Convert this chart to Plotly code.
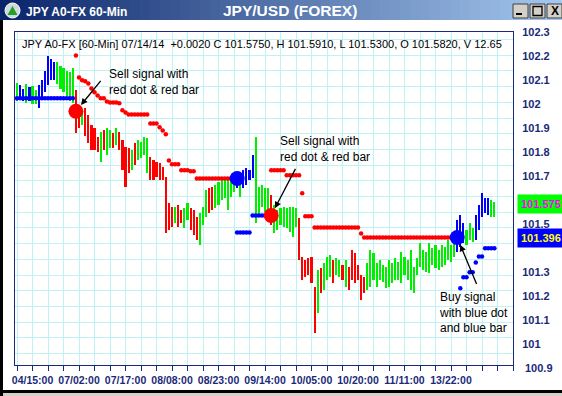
import plotly.graph_objects as go

# ---------------- data ----------------
bar_index = list(range(155))

signal = (
    ["G", "B", "B", "G", "B", "G", "G", "B", "B", "B"]
    + ["B", "B", "B", "G", "G", "G", "G", "G", "G", "R"]
    + ["R", "G", "R", "R", "R", "R", "R", "G", "R", "G"]
    + ["G", "R", "G", "R", "R", "R", "R", "G", "R", "G"]
    + ["G", "G", "G", "R", "R", "R", "R", "R", "R", "R"]
    + ["R", "G", "R", "R", "G", "G", "R", "R", "R", "G"]
    + ["G", "G", "R", "R", "G", "G", "G", "G", "G", "G"]
    + ["G", "B", "G", "B", "B", "B", "B", "G", "G", "G"]
    + ["G", "G", "R", "G", "G", "G", "G", "G", "G", "G"]
    + ["G", "R", "R", "R", "R", "R", "R", "G", "R", "G"]
    + ["G", "G", "R", "G", "G", "R", "G", "R", "R", "R"]
    + ["R", "R", "R", "G", "G", "G", "G", "G", "G", "G"]
    + ["G", "G", "G", "G", "G", "G", "G", "G", "G", "G"]
    + ["G", "G", "G", "G", "G", "G", "G", "G", "G", "G"]
    + ["G", "G", "B", "B", "B", "G", "G", "G", "B", "B"]
    + ["B", "B", "B", "G", "G"]
)

high = [
    102.086, 102.078, 102.065, 102.082, 102.070, 102.074, 102.057, 102.078, 102.099, 102.140,
    102.199, 102.190, 102.174, 102.174, 102.157, 102.149, 102.140, 102.132, 102.149, 102.057,
    101.995, 101.965, 101.982, 101.953, 101.911, 101.899, 101.861, 101.882, 101.890, 101.899,
    101.890, 101.878, 101.899, 101.882, 101.849, 101.820, 101.815, 101.807, 101.836, 101.849,
    101.840, 101.861, 101.857, 101.778, 101.765, 101.757, 101.753, 101.736, 101.695, 101.586,
    101.570, 101.570, 101.578, 101.557, 101.565, 101.586, 101.565, 101.557, 101.528, 101.545,
    101.570, 101.640, 101.649, 101.653, 101.661, 101.674, 101.690, 101.695, 101.690, 101.682,
    101.690, 101.711, 101.690, 101.724, 101.732, 101.724, 101.786, 101.861, 101.653, 101.661,
    101.649, 101.649, 101.620, 101.578, 101.557, 101.565, 101.570, 101.565, 101.570, 101.570,
    101.565, 101.524, 101.361, 101.349, 101.357, 101.361, 101.236, 101.307, 101.315, 101.336,
    101.361, 101.370, 101.349, 101.357, 101.349, 101.328, 101.349, 101.319, 101.390, 101.378,
    101.328, 101.286, 101.278, 101.336, 101.390, 101.378, 101.336, 101.349, 101.328, 101.319,
    101.349, 101.336, 101.357, 101.340, 101.382, 101.361, 101.349, 101.390, 101.319, 101.357,
    101.420, 101.390, 101.382, 101.420, 101.399, 101.411, 101.390, 101.411, 101.403, 101.432,
    101.411, 101.444, 101.515, 101.536, 101.503, 101.474, 101.503, 101.482, 101.536, 101.578,
    101.628, 101.607, 101.607, 101.599, 101.591,
]

low = [
    102.015, 102.024, 102.015, 102.003, 102.015, 101.999, 101.999, 101.982, 102.024, 102.049,
    102.078, 102.099, 102.099, 102.082, 102.065, 102.049, 102.032, 102.015, 102.003, 101.878,
    101.899, 101.911, 101.869, 101.836, 101.807, 101.807, 101.799, 101.757, 101.807, 101.786,
    101.815, 101.815, 101.828, 101.807, 101.724, 101.653, 101.711, 101.724, 101.745, 101.765,
    101.774, 101.786, 101.711, 101.682, 101.682, 101.695, 101.682, 101.682, 101.461, 101.474,
    101.486, 101.503, 101.486, 101.503, 101.482, 101.515, 101.474, 101.453, 101.432, 101.411,
    101.495, 101.528, 101.545, 101.557, 101.565, 101.578, 101.599, 101.607, 101.557, 101.611,
    101.632, 101.649, 101.611, 101.649, 101.661, 101.682, 101.690, 101.503, 101.528, 101.570,
    101.549, 101.507, 101.495, 101.461, 101.474, 101.495, 101.486, 101.482, 101.465, 101.444,
    101.486, 101.349, 101.265, 101.278, 101.286, 101.253, 101.045, 101.128, 101.211, 101.224,
    101.265, 101.278, 101.253, 101.286, 101.278, 101.265, 101.236, 101.224, 101.265, 101.253,
    101.265, 101.182, 101.211, 101.224, 101.236, 101.265, 101.236, 101.265, 101.257, 101.232,
    101.236, 101.253, 101.265, 101.265, 101.253, 101.286, 101.265, 101.224, 101.211, 101.286,
    101.319, 101.307, 101.299, 101.295, 101.328, 101.315, 101.307, 101.319, 101.328, 101.349,
    101.340, 101.361, 101.382, 101.403, 101.420, 101.411, 101.432, 101.424, 101.432, 101.474,
    101.528, 101.545, 101.536, 101.528, 101.530,
]

# parabolic-SAR style dots
red_dot_x = list(range(19, 71)) + list(range(82, 142))
red_dot_y = [
    102.203, 102.111, 102.099, 102.095, 102.086, 102.065, 102.049, 102.036, 102.024, 102.024,
    102.011, 102.007, 102.007, 102.007, 102.003, 101.974, 101.965,
    101.957, 101.957, 101.957, 101.957, 101.957, 101.957, 101.957,
    101.919, 101.919, 101.919, 101.903, 101.890, 101.874, 101.765,
    101.749, 101.749, 101.749, 101.724, 101.724, 101.724, 101.720, 101.720,
    101.690, 101.690, 101.690, 101.690, 101.690, 101.690, 101.690, 101.690, 101.690, 101.690,
    101.690, 101.690, 101.690,
    101.724, 101.724, 101.724, 101.724, 101.724, 101.703, 101.703, 101.703, 101.703, 101.703,
    101.628, 101.532, 101.532, 101.532,
    101.486, 101.486, 101.486, 101.486, 101.486, 101.486, 101.486, 101.486, 101.486, 101.486,
    101.486, 101.486, 101.486, 101.486, 101.486, 101.461,
    101.444, 101.444, 101.444, 101.444, 101.444, 101.444, 101.444, 101.444, 101.444, 101.444,
    101.444, 101.444, 101.444, 101.444, 101.444, 101.444, 101.444, 101.444, 101.444, 101.444,
    101.444, 101.444, 101.444, 101.444, 101.444, 101.444, 101.444, 101.444, 101.444, 101.444,
]
blue_dot_x = list(range(0, 19)) + list(range(71, 81)) + list(range(143, 155))
blue_dot_y = [
    102.024, 102.024, 102.024, 102.024, 102.024, 102.024, 102.024, 102.024, 102.024, 102.024,
    102.024, 102.024, 102.024, 102.024, 102.024, 102.024, 102.024, 102.024, 102.024,
    101.465, 101.465, 101.465, 101.465, 101.465, 101.536, 101.536, 101.536, 101.536, 101.536,
    101.232, 101.278, 101.278, 101.299, 101.299, 101.340, 101.365, 101.365,
    101.399, 101.399, 101.399, 101.399,
]

# buy / sell signal markers
signal_x = [19, 71, 82, 142]
signal_y = [101.970, 101.690, 101.536, 101.444]
signal_kind = ["sell", "buy", "sell", "buy"]

x_label_pos = [5, 20, 35, 50, 65, 80, 95, 110, 125, 140]
x_label_text = ["04/15:00", "07/02:00", "07/17:00", "08/08:00", "08/23:00",
                "09/14:00", "10/05:00", "10/20:00", "11/11:00", "13/22:00"]
# 101.4 and 101.6 sit hidden behind the value boxes in the original
y_tick_vals = [101.0, 101.1, 101.2, 101.3, 101.5, 101.7,
               101.8, 101.9, 102.0, 102.1, 102.2, 102.3]
y_tick_text = ["101", "101.1", "101.2", "101.3", "101.5", "101.7",
               "101.8", "101.9", "102", "102.1", "102.2", "102.3"]
y_bottom_label = "100.9"

last_close = "101.575"
last_sar = "101.396"
header = ("JPY A0-FX [60-Min] 07/14/14  +0.0020 C 101.5750, H 101.5910, "
          "L 101.5300, O 101.5820, V 12.65")

# ---------------- styling ----------------
W, H = 562, 396
ML, MR, MT, MB = 15, 49, 32, 31
NAVY = "#1a2a78"
GRID = "#bff2f2"
FONT = "Liberation Sans, Arial, sans-serif"
COLORS = {"G": "#00ee00", "R": "#ff0000", "B": "#0000ff"}
Y_RANGE = [100.9125, 102.3005]
PX_PER_UNIT = (H - MT - MB) / (Y_RANGE[1] - Y_RANGE[0])


def px(x):
    return (x - ML) / (W - ML - MR)


def py(y):
    return (H - MB - y) / (H - MT - MB)


fig = go.Figure()

bar_len = [h - l for h, l in zip(high, low)]
fig.add_trace(go.Bar(
    x=bar_index, y=bar_len, base=low, width=0.7,
    marker=dict(color=[COLORS[s] for s in signal], line=dict(width=0)),
    hoverinfo="skip", showlegend=False,
))
fig.add_trace(go.Scatter(
    x=red_dot_x, y=red_dot_y, mode="markers",
    marker=dict(color="#ff0000", size=4.5, line=dict(width=0)),
    hoverinfo="skip", showlegend=False,
))
fig.add_trace(go.Scatter(
    x=blue_dot_x, y=blue_dot_y, mode="markers",
    marker=dict(color="#0000ff", size=4.5, line=dict(width=0)),
    hoverinfo="skip", showlegend=False,
))
fig.add_trace(go.Scatter(
    x=signal_x, y=signal_y, mode="markers",
    marker=dict(color=["#ff0000" if k == "sell" else "#0000ff" for k in signal_kind],
                size=15, line=dict(width=0)),
    hoverinfo="skip", showlegend=False,
))

x_tick_vals = list(range(0, 161, 5))
x_tick_text = [x_label_text[x_label_pos.index(v)] if v in x_label_pos else "" for v in x_tick_vals]

shapes = []
# title bar gradient
c0, c1 = (10, 36, 106), (166, 202, 240)
n = 57
for i in range(n):
    t = i / (n - 1)
    col = "rgb(%d,%d,%d)" % tuple(round(a + (b - a) * t) for a, b in zip(c0, c1))
    shapes.append(dict(type="rect", xref="paper", yref="paper",
                       x0=px(i * 10), x1=px(i * 10 + 10.5), y0=py(0), y1=py(20),
                       fillcolor=col, line=dict(width=0), layer="above"))
# window border
shapes.append(dict(type="rect", xref="paper", yref="paper", x0=px(0), x1=px(3),
                   y0=py(20), y1=py(396), fillcolor="#000000", line=dict(width=0), layer="above"))
shapes.append(dict(type="rect", xref="paper", yref="paper", x0=px(0), x1=px(562),
                   y0=py(390), y1=py(393), fillcolor="#000000", line=dict(width=0), layer="above"))
shapes.append(dict(type="rect", xref="paper", yref="paper", x0=px(3), x1=px(562),
                   y0=py(393), y1=py(396), fillcolor="#d4d0c8", line=dict(width=0), layer="above"))
# icon
shapes.append(dict(type="circle", xref="paper", yref="paper", x0=px(5), x1=px(20),
                   y0=py(3), y1=py(18), fillcolor="#d0d8e0", line=dict(color="#ffffff", width=1),
                   layer="above"))
shapes.append(dict(type="path", xref="paper", yref="paper",
                   path="M %f %f L %f %f L %f %f Z" % (px(12.5), py(6), px(7.5), py(15), px(17.5), py(15)),
                   fillcolor="#22a022", line=dict(width=0), layer="above"))
# window buttons
for bx in (513, 530, 547):
    shapes.append(dict(type="rect", xref="paper", yref="paper", x0=px(bx), x1=px(bx + 15),
                       y0=py(4), y1=py(18), fillcolor="#d4d0c8",
                       line=dict(color="#404040", width=1), layer="above"))
shapes.append(dict(type="rect", xref="paper", yref="paper", x0=px(516), x1=px(522),
                   y0=py(13), y1=py(15), fillcolor="#000000", line=dict(width=0), layer="above"))
shapes.append(dict(type="rect", xref="paper", yref="paper", x0=px(533), x1=px(542),
                   y0=py(6.5), y1=py(15.5), fillcolor="rgba(0,0,0,0)",
                   line=dict(color="#000000", width=1.3), layer="above"))

annotations = []
annotations.append(dict(xref="paper", yref="paper", x=px(24), y=py(12.5), xanchor="left",
                        yanchor="middle", showarrow=False, text="<b>JPY A0-FX 60-Min</b>",
                        font=dict(family=FONT, size=12, color="#ffffff")))
annotations.append(dict(xref="paper", yref="paper", x=px(290), y=py(11), xanchor="center",
                        yanchor="middle", showarrow=False, text="<b>JPY/USD (FOREX)</b>",
                        font=dict(family=FONT, size=15.5, color="#ffffff")))
annotations.append(dict(xref="paper", yref="paper", x=px(554.5), y=py(11), xanchor="center",
                        yanchor="middle", showarrow=False, text="<b>X</b>",
                        font=dict(family=FONT, size=12, color="#000000")))
annotations.append(dict(xref="paper", yref="paper", x=px(20), y=py(44), xanchor="left",
                        yanchor="middle", showarrow=False, text=header,
                        font=dict(family=FONT, size=11, color="#000000")))
# bottom y label (just below the plotted range)
annotations.append(dict(xref="paper", yref="paper", x=px(523), y=py(367.5), xanchor="left",
                        yanchor="middle", showarrow=False, text="<b>%s</b>" % y_bottom_label,
                        font=dict(family=FONT, size=11, color=NAVY)))
# current value boxes
annotations.append(dict(xref="paper", yref="paper", x=px(517), y=py(204), xanchor="left",
                        yanchor="middle", showarrow=False, text="<b>%s</b>" % last_close,
                        bgcolor="#00ff00", borderpad=3,
                        font=dict(family=FONT, size=11, color="#ff00ff")))
annotations.append(dict(xref="paper", yref="paper", x=px(517), y=py(238), xanchor="left",
                        yanchor="middle", showarrow=False, text="<b>%s</b>" % last_sar,
                        bgcolor="#0000ff", borderpad=3,
                        font=dict(family=FONT, size=11, color="#ffff00")))
# callouts
notes = [
    ("Sell signal with<br>red dot & red bar", 107, 65, 0, 26, -32),
    ("Sell signal with<br>red dot & red bar", 278, 132, 2, 25, -48),
    ("Buy signal<br>with blue dot<br>and blue bar", 437, 288, 3, 20, 48),
]
for text, tx, ty, si, ax, ay in notes:
    annotations.append(dict(xref="paper", yref="paper", x=px(tx), y=py(ty), xanchor="left",
                            yanchor="top", align="left", showarrow=False, text=text,
                            font=dict(family=FONT, size=12, color="#000000")))
    annotations.append(dict(xref="x", yref="y", x=signal_x[si], y=signal_y[si], text="",
                            showarrow=True, ax=ax, ay=ay, standoff=8, arrowhead=2,
                            arrowsize=1, arrowwidth=1.3, arrowcolor="#000000"))

# square background grid (15.7 px cells, independent of the price ticks)
grid_step = 15.7 / PX_PER_UNIT
grid_start = Y_RANGE[0] + (365 - 353.5) / PX_PER_UNIT

fig.update_layout(
    width=W, height=H,
    margin=dict(l=ML, r=MR, t=MT, b=MB, pad=0),
    paper_bgcolor="#ffffff", plot_bgcolor="#ffffff",
    showlegend=False, bargap=0,
    xaxis=dict(
        range=[-0.65, 160.0], tickmode="array", tickvals=x_tick_vals, ticktext=x_tick_text,
        ticks="outside", ticklen=5, tickcolor=NAVY, tickwidth=1,
        tickfont=dict(family=FONT, size=10.5, color=NAVY, weight="bold"),
        showgrid=True, gridcolor=GRID, gridwidth=1, zeroline=False,
        showline=True, linecolor=NAVY, linewidth=1, mirror=True, automargin=False,
        fixedrange=True,
    ),
    yaxis=dict(
        range=Y_RANGE, side="right", tickmode="array",
        tickvals=y_tick_vals, ticktext=y_tick_text, ticks="", ticklabelstandoff=6,
        tickfont=dict(family=FONT, size=11, color=NAVY, weight="bold"),
        showgrid=False, zeroline=False, showline=True, linecolor=NAVY, linewidth=1,
        mirror=True, automargin=False, fixedrange=True,
        minor=dict(tickmode="linear", tick0=grid_start, dtick=grid_step, ticks="",
                   showgrid=True, gridcolor=GRID, gridwidth=1),
    ),
    shapes=shapes,
    annotations=annotations,
)

fig.write_html("out.html", config={"displayModeBar": False})
